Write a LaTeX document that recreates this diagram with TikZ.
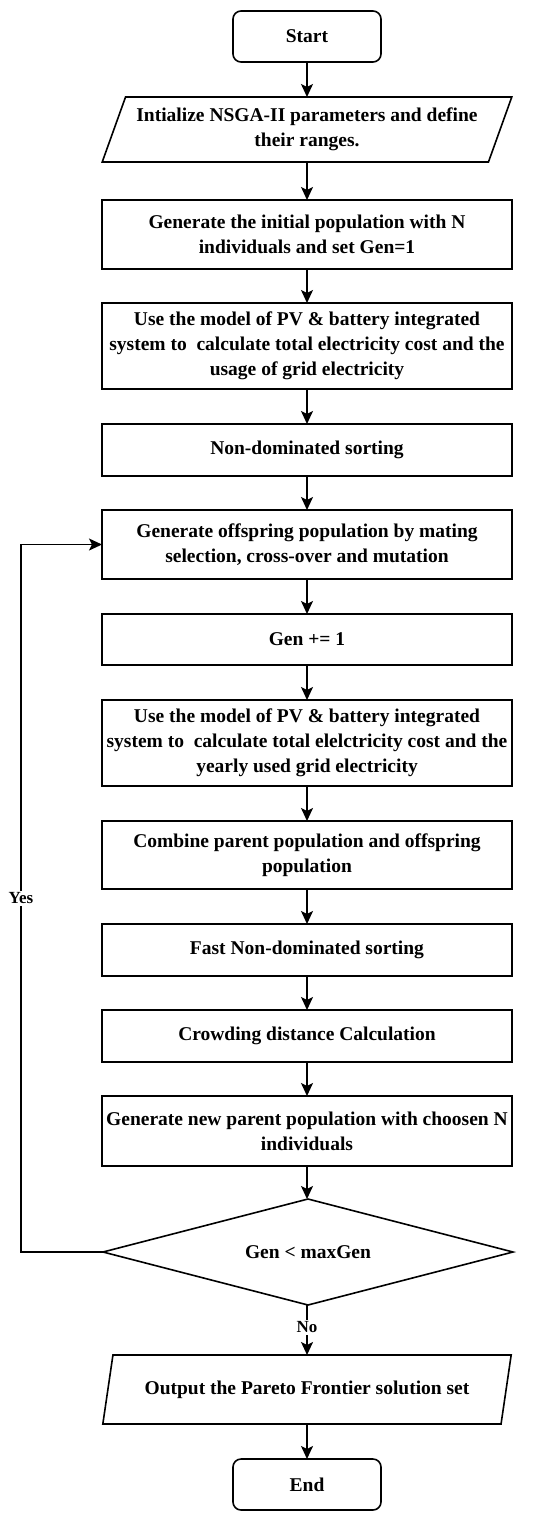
\documentclass[tikz,border=0pt]{standalone}
\usepackage{fontspec}
\setmainfont{Liberation Serif}
\usetikzlibrary{shapes.geometric,arrows.meta}
\begin{document}
\begin{tikzpicture}[x=1pt,y=1pt,
  every node/.style={font=\fontsize{19.5}{25}\selectfont\bfseries, inner sep=0pt, outer sep=0pt, align=center},
  procbox/.style={draw, line width=1.6pt, rectangle, minimum width=410pt},
  termbox/.style={draw, line width=1.6pt, rectangle, rounded corners=8pt, minimum width=148pt, minimum height=51pt},
  iobox/.style={draw, line width=1.6pt, trapezium, trapezium stretches=true, trapezium left angle=63, trapezium right angle=117, minimum width=410pt},
  decbox/.style={draw, line width=1.6pt, diamond, aspect=3.87, minimum width=410pt, minimum height=106pt},
  flow/.style={line width=1.6pt, -{Stealth[length=13pt,width=12pt,inset=3pt]}},
  lbl/.style={font=\fontsize{17}{20}\selectfont\bfseries, fill=white, inner sep=2pt}
]
\useasboundingbox (0,0) rectangle (550,-1519);
\node[termbox] (start) at (307,-36.5) {Start};
\node[iobox, minimum height=65pt] (init) at (307,-129.5) {Intialize NSGA-II parameters and define\\their ranges.};
\node[procbox, minimum height=69pt] (genpop) at (307,-234.5) {Generate the initial population with N\\individuals and set Gen=1};
\node[procbox, minimum height=86pt] (model1) at (307,-346) {Use the model of PV \& battery integrated\\system to\ \ calculate total electricity cost and the\\usage of grid electricity};
\node[procbox, minimum height=52pt] (nds) at (307,-450) {Non-dominated sorting};
\node[procbox, minimum height=69pt] (offs) at (307,-544.5) {Generate offspring population by mating\\selection, cross-over and mutation};
\node[procbox, minimum height=51pt] (inc) at (307,-639.5) {Gen += 1};
\node[procbox, minimum height=86pt] (model2) at (307,-743) {Use the model of PV \& battery integrated\\system to\ \ calculate total elelctricity cost and the\\yearly used grid electricity};
\node[procbox, minimum height=68pt] (comb) at (307,-855) {Combine parent population and offspring\\population};
\node[procbox, minimum height=52pt] (fnds) at (307,-950) {Fast Non-dominated sorting};
\node[procbox, minimum height=52pt] (crowd) at (307,-1036) {Crowding distance Calculation};
\node[procbox, minimum height=70pt] (newpar) at (307,-1131) {Generate new parent population with choosen N\\individuals};
\node[decbox] (dec) at (308,-1252) {Gen < maxGen};
\node[iobox, minimum height=69pt, trapezium left angle=64.4, trapezium right angle=115.6] (out) at (307,-1389.5) {Output the Pareto Frontier solution set};
\node[termbox] (end) at (307,-1484.5) {End};
\coordinate (loopb) at (21,-1252);
\coordinate (loopt) at (21,-544.5);
\draw[flow] (start) -- (init);
\draw[flow] (init) -- (genpop);
\draw[flow] (genpop) -- (model1);
\draw[flow] (model1) -- (nds);
\draw[flow] (nds) -- (offs);
\draw[flow] (offs) -- (inc);
\draw[flow] (inc) -- (model2);
\draw[flow] (model2) -- (comb);
\draw[flow] (comb) -- (fnds);
\draw[flow] (fnds) -- (crowd);
\draw[flow] (crowd) -- (newpar);
\draw[flow] (newpar) -- (dec.north -| newpar.south);
\draw[flow] (dec.south -| out.north) -- node[lbl, pos=0.45] {No} (out.north);
\draw[flow] (out) -- (end);
\draw[flow] (dec.west) -- (loopb) -- node[lbl, pos=0.5] {Yes} (loopt) -- (offs.west);
\end{tikzpicture}
\end{document}
